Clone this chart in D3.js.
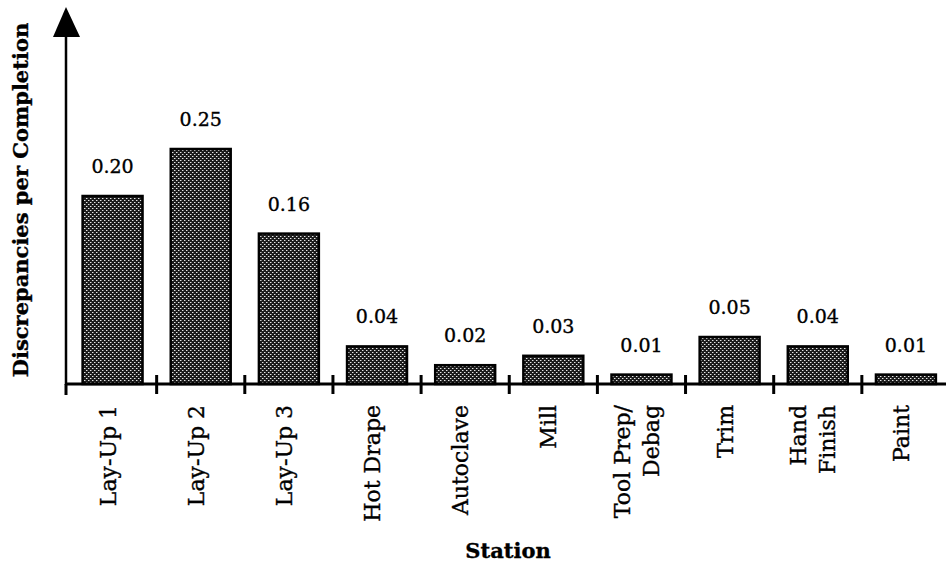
<!DOCTYPE html>
<html>
<head>
<meta charset="utf-8">
<script src="https://cdn.jsdelivr.net/npm/d3@7"></script>
<style>
  html, body { margin: 0; padding: 0; background: #fff; }
  svg { display: block; }
  text { fill: #000; stroke: #000; stroke-width: 0.35px; }
</style>
</head>
<body>
<svg id="chart" width="946" height="569"></svg>
<script>
// Stations along the production line (multi-line names split with "|")
const stations = ["Lay-Up 1", "Lay-Up 2", "Lay-Up 3", "Hot Drape", "Autoclave",
                  "Mill", "Tool Prep/|Debag", "Trim", "Hand|Finish", "Paint"];
// Discrepancies per completion at each station
const discrepancies = [0.20, 0.25, 0.16, 0.04, 0.02, 0.03, 0.01, 0.05, 0.04, 0.01];
const valueLabels = ["0.20", "0.25", "0.16", "0.04", "0.02", "0.03", "0.01", "0.05", "0.04", "0.01"];
const yTitle = "Discrepancies per Completion";
const xTitle = "Station";

const svg = d3.select("#chart");
const serif = "'DejaVu Serif', serif";

const x0 = 68.5, x1 = 950, yBase = 384, yTop = 8;

const x = d3.scaleBand()
  .domain(stations)
  .range([x0, x1])
  .paddingInner(0.32)
  .paddingOuter(0.16);

const y = d3.scaleLinear()
  .domain([0, 0.4])
  .range([yBase, yTop]);

// Stipple fill: dark ground with a diagonal grid of light dots
const defs = svg.append("defs");
const pat = defs.append("pattern")
  .attr("id", "stipple")
  .attr("width", 4).attr("height", 4)
  .attr("patternUnits", "userSpaceOnUse");
pat.append("rect").attr("width", 4).attr("height", 4).attr("fill", "#1c1c1c");
pat.append("rect").attr("x", 0).attr("y", 0).attr("width", 1).attr("height", 1).attr("fill", "#e6e6e6");
pat.append("rect").attr("x", 2).attr("y", 2).attr("width", 1).attr("height", 1).attr("fill", "#e6e6e6");
pat.append("rect").attr("x", 1).attr("y", 0).attr("width", 1).attr("height", 1).attr("fill", "#777");
pat.append("rect").attr("x", 3).attr("y", 2).attr("width", 1).attr("height", 1).attr("fill", "#777");

// Bars
svg.append("g").selectAll("rect")
  .data(discrepancies)
  .join("rect")
  .attr("x", (d, i) => x(stations[i]))
  .attr("y", d => y(d))
  .attr("width", x.bandwidth())
  .attr("height", d => yBase - y(d))
  .attr("fill", "url(#stipple)")
  .attr("stroke", "#000")
  .attr("stroke-width", 2.5);

// Value labels above bars
svg.append("g").selectAll("text")
  .data(discrepancies)
  .join("text")
  .attr("x", (d, i) => x(stations[i]) + x.bandwidth() / 2)
  .attr("y", d => y(d) - 23)
  .attr("text-anchor", "middle")
  .attr("font-family", serif)
  .attr("font-size", 19)
  .text((d, i) => valueLabels[i]);

// X axis baseline
svg.append("line")
  .attr("x1", 66).attr("x2", 946)
  .attr("y1", yBase).attr("y2", yBase)
  .attr("stroke", "#000").attr("stroke-width", 3);

// Ticks at the band boundaries
const step = x.step();
const boundaries = d3.range(1, stations.length).map(i => x0 + i * step);
svg.append("g").selectAll("line")
  .data(boundaries)
  .join("line")
  .attr("x1", d => d).attr("x2", d => d)
  .attr("y1", yBase - 9).attr("y2", yBase + 10)
  .attr("stroke", "#000").attr("stroke-width", 3);
svg.append("line")
  .attr("x1", 66).attr("x2", 66)
  .attr("y1", yBase).attr("y2", yBase + 11)
  .attr("stroke", "#000").attr("stroke-width", 3);

// Y axis with arrow head
svg.append("line")
  .attr("x1", 66).attr("x2", 66)
  .attr("y1", 34).attr("y2", yBase + 1)
  .attr("stroke", "#000").attr("stroke-width", 2.5);
svg.append("path")
  .attr("d", "M66,7 L53,37 L80,37 Z")
  .attr("fill", "#000");

// Category labels, rotated
const lineGap = 29;
const catG = svg.append("g");
stations.forEach(s => {
  const lines = s.split("|");
  const cx = x(s) + x.bandwidth() / 2;
  lines.forEach((ln, j) => {
    const off = (j - (lines.length - 1) / 2) * lineGap;
    catG.append("text")
      .attr("transform", `translate(${cx + 3 + off},405) rotate(-90)`)
      .attr("text-anchor", "end")
      .attr("font-family", serif)
      .attr("font-size", 22)
      .text(ln);
  });
});

// Axis titles
svg.append("text")
  .attr("transform", "translate(28,200) rotate(-90)")
  .attr("text-anchor", "middle")
  .attr("font-family", serif)
  .attr("font-weight", "bold")
  .attr("font-size", 21)
  .text(yTitle);

svg.append("text")
  .attr("x", 508).attr("y", 558)
  .attr("text-anchor", "middle")
  .attr("font-family", serif)
  .attr("font-weight", "bold")
  .attr("font-size", 21)
  .text(xTitle);
</script>
</body>
</html>
